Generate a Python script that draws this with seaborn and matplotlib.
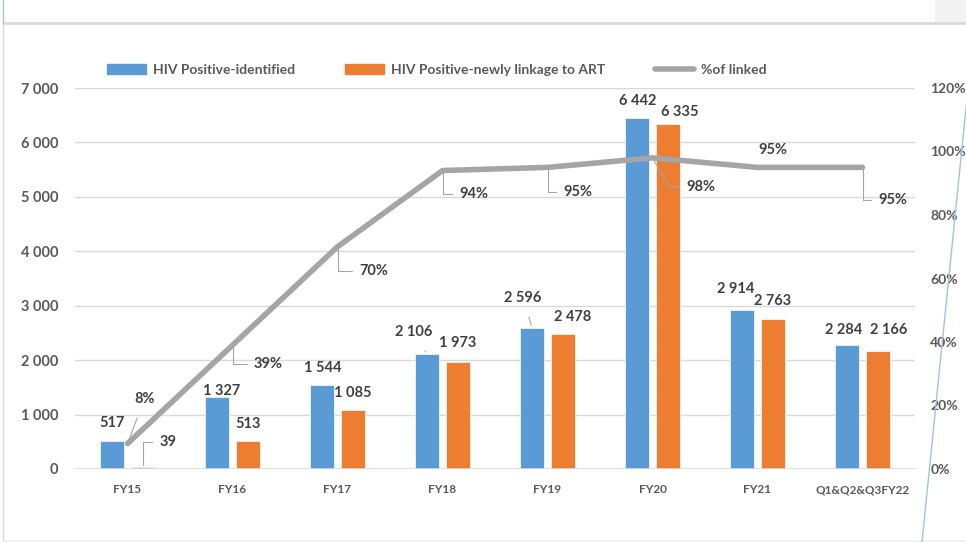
import numpy as np
import pandas as pd
import seaborn as sns
import matplotlib.pyplot as plt
from matplotlib.patches import Patch, Rectangle
from matplotlib.lines import Line2D
from matplotlib.ticker import FuncFormatter

# data
categories = ["FY15", "FY16", "FY17", "FY18", "FY19", "FY20", "FY21", "Q1&Q2&Q3FY22"]
identified = [517, 1327, 1544, 2106, 2596, 6442, 2914, 2284]
linked = [39, 513, 1085, 1973, 2478, 6335, 2763, 2166]
pct_linked = [0.08, 0.39, 0.70, 0.94, 0.95, 0.98, 0.95, 0.95]
series_names = ["HIV Positive-identified", "HIV Positive-newly linkage to ART"]
line_name = "%of linked"

BLUE = "#5B9BD5"
ORANGE = "#ED7D31"
GREY = "#A5A5A5"
TXT = "#595959"
LAB = "#404040"

# label offsets in pixels (dx, dy) relative to bar top / line point, leader style
blue_off = [(0, 18, None), (4, 6, None), (0, 17, None), (-14, 22, "s"), (-10, 30, "s"),
            (0, 17, None), (-7, 21, None), (-4, 15, None)]
orange_off = [(25, 25, "a"), (0, 17, None), (0, 17, None), (0, 19, None), (10, 17, None),
              (12, 12, None), (0, 18, None), (11, 21, None)]
line_off = [(17, 45, "s"), (36, -19, "a"), (36, -24, "a"), (31, -23, "a"), (30, -25, "a"),
            (48, -29, "d"), (15, 17, None), (30, -33, "a")]

sns.set_theme(style="white")
plt.rcParams["font.family"] = ["Lato", "DejaVu Sans"]
plt.rcParams["font.weight"] = "bold"

df = pd.DataFrame({
    "cat": categories * 2,
    "val": identified + linked,
    "series": [series_names[0]] * len(categories) + [series_names[1]] * len(categories),
})

fig = plt.figure(figsize=(9.66, 5.42), dpi=100)
ax = fig.add_axes([75 / 966, 1 - 469 / 542, 840 / 966, 381 / 542])

sns.barplot(data=df, x="cat", y="val", hue="series", palette=[BLUE, ORANGE],
            saturation=1, width=0.58, gap=0.2, ax=ax, legend=False,
            edgecolor="white", linewidth=0.5)
ax.set_ylim(0, 7000)
ax.set_xlim(-0.5, len(categories) - 0.5)
ax.set_yticks(np.arange(0, 7001, 1000))
ax.yaxis.set_major_formatter(FuncFormatter(lambda v, p: f"{int(v):,}".replace(",", " ")))
ax.grid(axis="y", color="#D9D9D9", lw=1)
ax.set_axisbelow(True)
for s in ax.spines.values():
    s.set_visible(False)
ax.axhline(0, color="#D9D9D9", lw=1.2, zorder=1)
ax.set_xlabel("")
ax.set_ylabel("")
ax.tick_params(axis="y", length=0, pad=12, labelsize=10.5, labelcolor=TXT)
ax.tick_params(axis="x", length=0, pad=11, labelsize=8.5, labelcolor=TXT)

ax2 = ax.twinx()
sns.lineplot(x=np.arange(len(categories)), y=pct_linked, color=GREY, lw=4, ax=ax2)
ax2.set_ylim(0, 1.2)
ax2.set_yticks(np.arange(0, 1.21, 0.2))
ax2.yaxis.set_major_formatter(FuncFormatter(lambda v, p: f"{round(v * 100)}%"))
ax2.tick_params(axis="y", length=0, pad=11, labelsize=10, labelcolor=TXT)
for s in ax2.spines.values():
    s.set_visible(False)
ax2.set_xlim(-0.5, len(categories) - 0.5)

def fmt(v):
    return f"{v:,}".replace(",", " ")

def label(axis, text, xy, off):
    dx, dy, lead = off
    kw = {}
    if lead == "s":
        kw["arrowprops"] = dict(arrowstyle="-", color=GREY, lw=0.8, shrinkA=7, shrinkB=2)
    elif lead == "d":
        kw["arrowprops"] = dict(arrowstyle="-", color=GREY, lw=0.8, relpos=(0, 0.5),
                                connectionstyle="angle,angleA=0,angleB=-60,rad=0",
                                shrinkA=3, shrinkB=1)
    elif lead == "a":
        kw["arrowprops"] = dict(arrowstyle="-", color=GREY, lw=0.8, relpos=(0, 0.5),
                                connectionstyle="angle,angleA=0,angleB=90,rad=0",
                                shrinkA=3, shrinkB=1)
    axis.annotate(text, xy=xy, xytext=(dx, dy), textcoords="offset pixels",
                  ha="center", va="center", fontsize=10.5, color=LAB,
                  fontweight="bold", **kw)

for cont, vals, offs in zip(ax.containers, [identified, linked], [blue_off, orange_off]):
    for bar, v, off in zip(cont, vals, offs):
        label(ax, fmt(v), (bar.get_x() + bar.get_width() / 2, bar.get_height()), off)

for i, (p, off) in enumerate(zip(pct_linked, line_off)):
    label(ax2, f"{round(p * 100)}%", (i, p), off)

handles = [Patch(color=BLUE), Patch(color=ORANGE), Line2D([0], [0], color=GREY, lw=4)]
fig.legend(handles, series_names + [line_name], loc="center", ncol=3,
           bbox_to_anchor=(437 / 966, 1 - 70 / 542), frameon=False, fontsize=10,
           handlelength=2.8, handleheight=0.75, columnspacing=3.6, handletextpad=0.5,
           labelcolor=TXT)

# frame decorations from the screenshot
fig.add_artist(Line2D([3 / 966, 1], [1 - 23 / 542] * 2, color="#D9D9D9", lw=2))
fig.add_artist(Line2D([3 / 966] * 2, [1 - 23 / 542, 0], color="#D9D9D9", lw=1))
fig.add_artist(Line2D([3 / 966] * 2, [1, 1 - 22 / 542], color="#9DC3E6", lw=1))
fig.add_artist(Line2D([3 / 966, 1], [1 / 542] * 2, color="#E6E6E6", lw=1))
fig.add_artist(Rectangle((935 / 966, 1 - 22 / 542), 31 / 966, 22 / 542,
                         transform=fig.transFigure, color="#F2F2F2", lw=0))
fig.add_artist(Line2D([922 / 966, 977 / 966], [0, 1], color="#9DC3E6", lw=1))

fig.savefig("out.png", dpi=100)
